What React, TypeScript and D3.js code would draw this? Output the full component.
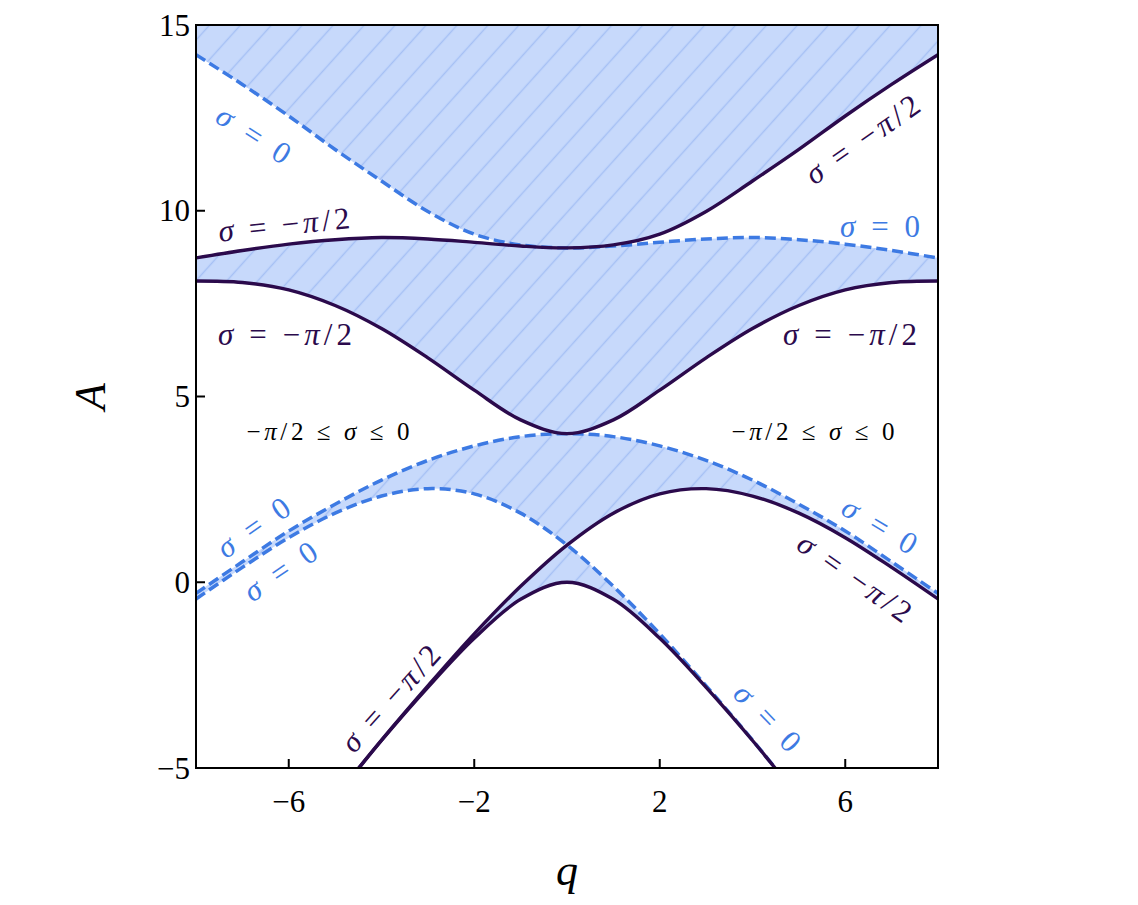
import * as d3 from "d3"

// q grid and characteristic curves
const qAll = [-8, -7, -6, -5, -4, -3, -2, -1, 0, 1, 2, 3, 4, 5, 6, 7, 8]

// solid curves (sigma = -pi/2)
const s0Q = [-5, -4, -3, -2, -1, 0, 1, 2, 3, 4, 5]
const s0A = [-5.8, -4.26, -2.83, -1.51, -0.46, 0, -0.46, -1.51, -2.83, -4.26, -5.8]
const s1Q = [-5, -4, -3, -2, -1, 0, 1, 2, 3, 4, 5, 6, 7, 8]
const s1A = [-5.79, -4.25, -2.79, -1.39, -0.11, 1, 1.86, 2.38, 2.52, 2.32, 1.86, 1.2, 0.4, -0.45]
const s2A = [8.11, 8.07, 7.87, 7.45, 6.83, 6.04, 5.17, 4.37, 4.0, 4.37, 5.17, 6.04, 6.83, 7.45, 7.87, 8.07, 8.11]
const s3A = [8.73, 8.93, 9.1, 9.22, 9.28, 9.24, 9.15, 9.05, 9.0, 9.08, 9.37, 9.98, 10.8, 11.65, 12.55, 13.4, 14.2]

// dashed curves (sigma = 0)
const d1Q = [-8, -7, -6, -5, -4, -3, -2, -1, 0, 1, 2, 3, 4, 5]
const d1A = [-0.45, 0.4, 1.2, 1.86, 2.32, 2.52, 2.38, 1.86, 1, -0.11, -1.39, -2.79, -4.25, -5.79]
const d2A = [-0.3, 0.55, 1.38, 2.1, 2.75, 3.28, 3.67, 3.92, 4.0, 3.92, 3.67, 3.28, 2.75, 2.1, 1.38, 0.55, -0.3]
const d3A = [14.2, 13.4, 12.55, 11.65, 10.8, 9.98, 9.37, 9.08, 9.0, 9.05, 9.15, 9.24, 9.28, 9.22, 9.1, 8.93, 8.73]

const xTicks = [-6, -2, 2, 6]
const yTicks = [15, 10, 5, 0, -5]

const W = 1138
const H = 905
const margin = { top: 25, right: 200, bottom: 137, left: 196 }

const SOLID = "#2b0a4c"
const DASH = "#3d7ae3"
const FILL = "#c7d9fb"
const HATCH = "#a6c0f4"

const x = d3.scaleLinear().domain([-8, 8]).range([margin.left, W - margin.right])
const y = d3.scaleLinear().domain([-5, 15]).range([H - margin.bottom, margin.top])

const line = d3
  .line<[number, number]>()
  .x((d) => x(d[0]))
  .y((d) => y(d[1]))
  .curve(d3.curveCatmullRom.alpha(0.5))

const pts = (qs: number[], as: number[]) => qs.map((q, i) => [q, as[i]] as [number, number])

const curves: Record<string, [number, number][]> = {
  S0: pts(s0Q, s0A),
  S1: pts(s1Q, s1A),
  S2: pts(qAll, s2A),
  S3: pts(qAll, s3A),
  D1: pts(d1Q, d1A),
  D2: pts(qAll, d2A),
  D3: pts(qAll, d3A),
}

const FT = -1000
const FB = 3000
const FL = -1000
const FR = 4000

// region above a curve (curve treated as far below outside its range)
function abovePath(p: [number, number][]) {
  const c = line(p) || ""
  const x0 = x(p[0][0])
  const xn = x(p[p.length - 1][0])
  return `M${FL},${FT}L${FL},${FB}L${x0},${FB}L${c.slice(1)}L${xn},${FB}L${FR},${FB}L${FR},${FT}Z`
}

function belowPath(p: [number, number][]) {
  const c = line(p) || ""
  const x0 = x(p[0][0])
  const xn = x(p[p.length - 1][0])
  return `${c}L${xn},${FB}L${x0},${FB}Z`
}

const bands = [
  ["above-S3", "above-D3"],
  ["above-S2", "below-S3", "below-D3"],
  ["above-S1", "above-D1", "below-D2"],
  ["above-S0", "below-S1", "below-D1"],
]

type Lab = { t: string; cx: number; cy: number; rot: number; len: number; color: string; size: number }

const labels: Lab[] = [
  { t: "σ = 0", cx: 254, cy: 134, rot: 33, len: 82, color: DASH, size: 31 },
  { t: "σ = −π/2", cx: 284, cy: 224, rot: -6, len: 132, color: SOLID, size: 31 },
  { t: "σ = −π/2", cx: 862, cy: 139, rot: -35, len: 132, color: SOLID, size: 31 },
  { t: "σ = 0", cx: 880, cy: 226, rot: 0, len: 80, color: DASH, size: 31 },
  { t: "σ = −π/2", cx: 285, cy: 334, rot: 0, len: 134, color: SOLID, size: 31 },
  { t: "σ = −π/2", cx: 850, cy: 334, rot: 0, len: 134, color: SOLID, size: 31 },
  { t: "−π/2 ≤ σ ≤ 0", cx: 328, cy: 431, rot: 0, len: 163, color: "#000", size: 25 },
  { t: "−π/2 ≤ σ ≤ 0", cx: 813, cy: 431, rot: 0, len: 163, color: "#000", size: 25 },
  { t: "σ = 0", cx: 253, cy: 527, rot: -35, len: 82, color: DASH, size: 31 },
  { t: "σ = 0", cx: 280, cy: 571, rot: -34, len: 82, color: DASH, size: 31 },
  { t: "σ = 0", cx: 880, cy: 525, rot: 31, len: 82, color: DASH, size: 31 },
  { t: "σ = −π/2", cx: 855, cy: 577, rot: 35, len: 132, color: SOLID, size: 31 },
  { t: "σ = −π/2", cx: 390, cy: 698, rot: -48, len: 132, color: SOLID, size: 31 },
  { t: "σ = 0", cx: 768, cy: 717, rot: 46, len: 82, color: DASH, size: 31 },
]

const font = "'Liberation Serif', 'Times New Roman', serif"

function Label({ l }: { l: Lab }) {
  // sigma and pi in italic
  const parts = l.t.split(/([σπ])/).filter((s) => s.length)
  return (
    <text
      transform={`translate(${l.cx},${l.cy}) rotate(${l.rot})`}
      textAnchor="middle"
      dominantBaseline="central"
      fill={l.color}
      fontSize={l.size}
      fontFamily={font}
      textLength={l.len}
      lengthAdjust="spacing"
    >
      {parts.map((s, i) => (
        <tspan key={i} fontStyle={s === "σ" || s === "π" ? "italic" : "normal"}>
          {s}
        </tspan>
      ))}
    </text>
  )
}

export default function App() {
  const pw = x(8) - x(-8)
  const ph = y(-5) - y(15)
  const ids = ["S0", "S1", "S2", "S3", "D1", "D2", "D3"]

  const nest = (clips: string[], inner: JSX.Element): JSX.Element =>
    clips.reduceRight((acc, id) => <g clipPath={`url(#${id})`}>{acc}</g>, inner)

  return (
    <svg
      width={W}
      height={H}
      style={{ position: "absolute", left: 0, top: 0, background: "#fff" }}
    >
      <defs>
        <clipPath id="plot">
          <rect x={x(-8)} y={y(15)} width={pw} height={ph} />
        </clipPath>
        {ids.map((id) => (
          <clipPath id={`above-${id}`} key={`a${id}`}>
            <path d={abovePath(curves[id])} />
          </clipPath>
        ))}
        {ids.map((id) => (
          <clipPath id={`below-${id}`} key={`b${id}`}>
            <path d={belowPath(curves[id])} />
          </clipPath>
        ))}
        <pattern
          id="hatch"
          patternUnits="userSpaceOnUse"
          width={23}
          height={23}
          patternTransform="rotate(-48)"
        >
          <line x1={0} y1={11.5} x2={23} y2={11.5} stroke={HATCH} strokeWidth={1.5} />
        </pattern>
      </defs>

      <g clipPath="url(#plot)">
        {bands.map((b, i) => (
          <g key={i}>
            {nest(
              b,
              <g>
                <rect x={x(-8)} y={y(15)} width={pw} height={ph} fill={FILL} />
                <rect x={x(-8)} y={y(15)} width={pw} height={ph} fill="url(#hatch)" />
              </g>,
            )}
          </g>
        ))}

        {["D1", "D2", "D3"].map((id) => (
          <path
            key={id}
            d={line(curves[id]) || ""}
            fill="none"
            stroke={DASH}
            strokeWidth={3.5}
            strokeDasharray="11 5"
          />
        ))}
        {["S0", "S1", "S2", "S3"].map((id) => (
          <path key={id} d={line(curves[id]) || ""} fill="none" stroke={SOLID} strokeWidth={3.4} />
        ))}
      </g>

      {labels.map((l, i) => (
        <Label key={i} l={l} />
      ))}

      {/* frame */}
      <rect x={x(-8)} y={y(15)} width={pw} height={ph} fill="none" stroke="#000" strokeWidth={2} />

      {/* y axis */}
      {yTicks.map((t) => (
        <g key={`y${t}`}>
          <line x1={x(-8)} x2={x(-8) + 9} y1={y(t)} y2={y(t)} stroke="#000" strokeWidth={2} />
          <text
            x={x(-8) - 6}
            y={y(t)}
            textAnchor="end"
            dominantBaseline="central"
            fontSize={31}
            fontFamily={font}
          >
            {t < 0 ? `−${-t}` : t}
          </text>
        </g>
      ))}

      {/* x axis */}
      {xTicks.map((t) => (
        <g key={`x${t}`}>
          <line x1={x(t)} x2={x(t)} y1={y(-5)} y2={y(-5) - 9} stroke="#000" strokeWidth={2} />
          <text
            x={x(t)}
            y={y(-5) + 33}
            textAnchor="middle"
            dominantBaseline="central"
            fontSize={31}
            fontFamily={font}
          >
            {t < 0 ? `−${-t}` : t}
          </text>
        </g>
      ))}

      <text
        x={x(0)}
        y={870}
        textAnchor="middle"
        dominantBaseline="central"
        fontSize={44}
        fontStyle="italic"
        fontFamily={font}
      >
        q
      </text>
      <text
        transform={`translate(90,${y(5)}) rotate(-90)`}
        textAnchor="middle"
        dominantBaseline="central"
        fontSize={44}
        fontStyle="italic"
        fontFamily={font}
      >
        A
      </text>
    </svg>
  )
}
